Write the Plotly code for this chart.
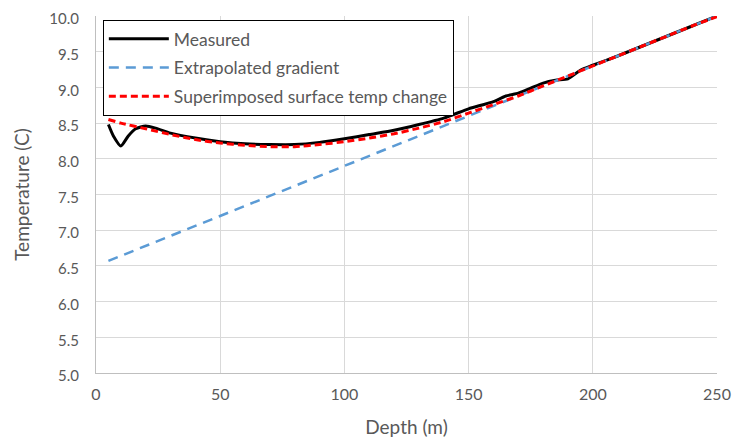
import plotly.graph_objects as go

meas_depth = [5, 7, 10, 13, 16, 20, 24, 30, 40, 50, 60, 70, 80, 90, 100, 110, 120, 130, 140, 150,
              155, 160, 165, 170, 175, 180, 185, 190, 195, 200, 210, 220, 230, 240, 250]
meas_temp = [8.48, 8.32, 8.18, 8.32, 8.42, 8.46, 8.43, 8.36, 8.29, 8.24, 8.21, 8.20, 8.20, 8.23, 8.28,
             8.34, 8.40, 8.48, 8.57, 8.70, 8.75, 8.80, 8.88, 8.92, 8.99, 9.06, 9.10, 9.12, 9.24, 9.31,
             9.44, 9.58, 9.72, 9.86, 10.0]

grad_depth = [5, 250]
grad_temp = [6.57, 10.0]

sup_depth = [5, 10, 20, 30, 40, 50, 60, 70, 80, 90, 100, 110, 120, 130, 140, 150, 160, 170, 180,
             190, 200, 210, 220, 230, 240, 250]
sup_temp = [8.55, 8.50, 8.42, 8.34, 8.27, 8.22, 8.19, 8.17, 8.17, 8.20, 8.24, 8.29, 8.35, 8.43,
            8.52, 8.64, 8.76, 8.88, 9.02, 9.16, 9.30, 9.44, 9.58, 9.72, 9.86, 9.99]

x_ticks = [0, 50, 100, 150, 200, 250]
y_ticks = [5.0, 5.5, 6.0, 6.5, 7.0, 7.5, 8.0, 8.5, 9.0, 9.5, 10.0]

fig = go.Figure()
fig.add_trace(go.Scatter(x=meas_depth, y=meas_temp, mode="lines", name="Measured", legendgroup="a",
                         line=dict(color="black", width=3, shape="spline", smoothing=0.6)))
fig.add_trace(go.Scatter(x=grad_depth, y=grad_temp, mode="lines", name="Extrapolated gradient", legendgroup="b",
                         line=dict(color="#5B9BD5", width=2.5, dash="10px,7px")))
fig.add_trace(go.Scatter(x=sup_depth, y=sup_temp, mode="lines", name="Superimposed surface temp change",
                         legendgroup="c",
                         line=dict(color="#FF0000", width=3, dash="7px,4px", shape="spline", smoothing=0.6)))

fig.update_layout(
    width=746, height=439,
    margin=dict(l=88, r=37, t=8, b=74, autoexpand=False),
    paper_bgcolor="white", plot_bgcolor="white",
    font=dict(family="Lato, Open Sans, sans-serif", size=15, color="#595959"),
    showlegend=True,
    legend=dict(x=0.011, y=0.989, xanchor="left", yanchor="top",
                bgcolor="white", bordercolor="black", borderwidth=1,
                font=dict(size=17.5, color="#595959"), tracegroupgap=3, itemwidth=60),
    xaxis=dict(range=[0, 250], tickvals=x_ticks, ticktext=[str(v) for v in x_ticks],
               showgrid=True, gridcolor="#D9D9D9", gridwidth=1, automargin=False,
               showline=True, linecolor="#BFBFBF", linewidth=1, zeroline=False,
               ticks="", ticklabelstandoff=7, ticklabeloverflow="allow",
               tickfont=dict(size=16),
               title=dict(text="Depth (m)", font=dict(size=19, color="#595959"), standoff=18)),
    yaxis=dict(range=[5, 10], tickvals=y_ticks, ticktext=[f"{v:.1f}" for v in y_ticks],
               showgrid=True, gridcolor="#D9D9D9", gridwidth=1, automargin=False,
               showline=True, linecolor="#BFBFBF", linewidth=1, zeroline=False,
               ticks="", ticklabelstandoff=13, ticklabeloverflow="allow", ticklabelshift=3,
               tickfont=dict(size=15),
               title=dict(text="Temperature (C)", font=dict(size=19, color="#595959"), standoff=14)),
)

fig.write_html("out.html")
